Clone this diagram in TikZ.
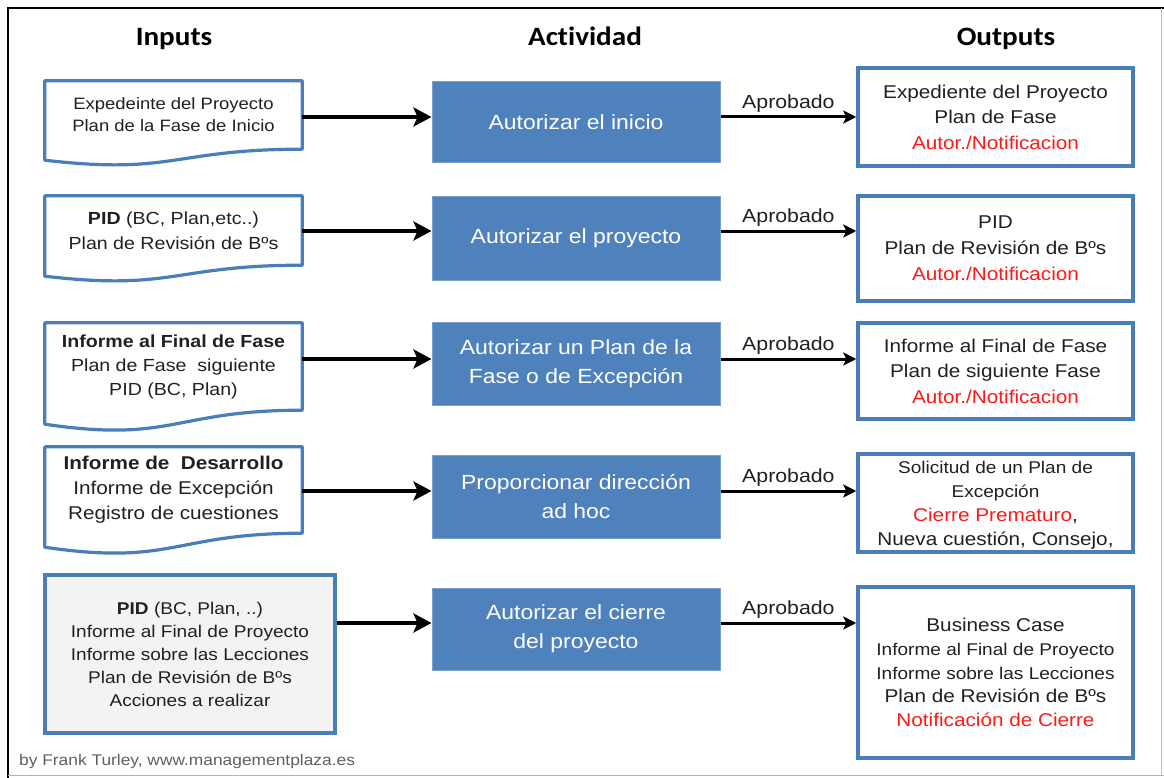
\documentclass[tikz,border=0pt]{standalone}
\usepackage{fontspec}
\setmainfont[FakeStretch=1.12]{Liberation Sans}
\newfontfamily\headfont[FakeStretch=1.1,Ligatures=NoCommon]{Carlito}
\usetikzlibrary{arrows.meta,calc}

\definecolor{boxblue}{RGB}{79,129,189}
\definecolor{lineblue}{RGB}{74,126,187}
\definecolor{bodytext}{RGB}{32,32,32}
\definecolor{alertred}{RGB}{255,24,24}
\definecolor{docgray}{RGB}{243,243,243}
\definecolor{footgray}{RGB}{96,96,96}

\newcommand\fs[2]{\fontsize{#1}{#2}\selectfont}
% wavy-bottomed document outline around the rectangular part of a node
% #1 node name, #2 drop of the left corner, #3 drop of the curve control
\newcommand\docoutline[3]{%
  \draw[docline] ($(#1.south west)+(0,#2)$) -- (#1.north west) -- (#1.north east)
    -- (#1.south east) .. controls (#1.south) and ($(#1.south)+(0,#3)$) .. ($(#1.south west)+(0,#2)$) -- cycle;}

\begin{document}
\begin{tikzpicture}[x=1pt,y=-1pt,
  inpart/.style={draw=none, minimum width=257pt, inner sep=0pt, align=center, text=bodytext},
  docline/.style={draw=lineblue, line width=3.2pt, line join=round},
  actbox/.style={fill=boxblue, draw=boxblue!75!white, line width=1pt, minimum width=288pt,
    minimum height=82pt, inner sep=0pt, text=white, align=center, font=\fs{20.5}{29}},
  outbox/.style={draw=lineblue, line width=3.5pt, minimum width=275pt, inner sep=0pt,
    align=center, text=bodytext},
  heading/.style={font=\headfont\bfseries\fs{26.5}{30}, text=black, anchor=base, inner sep=0pt},
  feed/.style={line width=4.8pt, -{Stealth[length=18pt, width=19pt, inset=4pt]}},
  result/.style={line width=3pt, -{Stealth[length=13pt, width=13pt, inset=3pt]}},
  oklabel/.style={font=\fs{19}{22}, text=bodytext, inner sep=2pt},
]
\useasboundingbox (0,0) rectangle (1164,778);

% page frame
\draw[line width=2.6pt, black] (8,778) -- (8,8) -- (1164,8);
\draw[line width=1pt, black!30] (8,775.5) -- (1164,775.5);
\draw[line width=0.8pt, black!25] (1161,8) -- (1161,775);

% column headings
\node[heading] (hin)  at (174,46) {Inputs};
\node[heading] (hact) at (585,46) {Actividad};
\node[heading] (hout) at (1006,46) {Outputs};

% heights of the connecting arrows in each row
\coordinate (r1) at (0,117);
\coordinate (r2) at (0,231);
\coordinate (r3) at (0,359);
\coordinate (r4) at (0,491);
\coordinate (r5) at (0,623);

% inputs
\node[inpart, minimum height=68pt, font=\fs{16.5}{22}] (in1) at (173.5,115)
  {Expedeinte del Proyecto\\Plan de la Fase de Inicio};
\docoutline{in1}{11}{26}
\node[inpart, minimum height=69pt, font=\fs{17.5}{25}] (in2) at (173.5,230.5)
  {\textbf{PID} (BC, Plan,etc..)\\Plan de Revisión de Bºs};
\docoutline{in2}{11}{26}
\node[inpart, minimum height=87pt, font=\fs{17.5}{24}] (in3) at (173.5,366.5)
  {\textbf{Informe al Final de Fase}\\Plan de Fase\ \ siguiente\\PID (BC, Plan)};
\docoutline{in3}{14}{33}
\node[inpart, minimum height=86pt, font=\fs{18.5}{25}] (in4) at (173.5,490)
  {\textbf{Informe de\ \ Desarrollo}\\Informe de Excepción\\Registro de cuestiones};
\docoutline{in4}{14}{33}
\node[draw=lineblue, line width=3.5pt, fill=docgray, minimum width=290pt, minimum height=158pt,
  inner sep=0pt, align=center, text=bodytext, font=\fs{17}{23}] (in5) at (190,654)
  {\textbf{PID} (BC, Plan, ..)\\Informe al Final de Proyecto\\Informe sobre las Lecciones\\
   Plan de Revisión de Bºs\\Acciones a realizar};

% activities
\node[actbox, minimum height=81pt] (act1) at (576,122.5) {Autorizar el inicio};
\node[actbox, minimum height=83pt] (act2) at (576,238.5) {Autorizar el proyecto};
\node[actbox, minimum height=83pt] (act3) at (576,363.5) {Autorizar un Plan de la\\Fase o de Excepción};
\node[actbox, minimum height=83pt] (act4) at (576,496.5) {Proporcionar dirección\\ad hoc};
\node[actbox, minimum height=82pt] (act5) at (576,629) {Autorizar el cierre\\del proyecto};

% outputs
\node[outbox, minimum height=98pt, font=\fs{18.5}{25.5}] (out1) at (995.5,117)
  {Expediente del Proyecto\\Plan de Fase\\{\color{alertred}Autor./Notificacion}};
\node[outbox, minimum height=105pt, font=\fs{18.5}{26}] (out2) at (995.5,248.5)
  {PID\\Plan de Revisión\ de Bºs\\{\color{alertred}Autor./Notificacion}};
\node[outbox, minimum height=96pt, font=\fs{18.5}{25.5}] (out3) at (995.5,371)
  {Informe al Final de Fase\\Plan de siguiente Fase\\{\color{alertred}Autor./Notificacion}};
\node[outbox, minimum height=98pt] (out4) at (995.5,503) {};
\begin{scope}
  \clip ($(out4.south west)+(1.75,-1.75)$) rectangle ($(out4.north east)+(-1.75,1.75)$);
  \node[align=center, text=bodytext, inner sep=0pt, font=\fs{17}{24}] (out4text) at (995.5,505)
    {Solicitud de un Plan de\\Excepción\\{\fs{18.5}{24}{\color{alertred}Cierre\ Prematuro},}\\
     {\fs{18.5}{24}Nueva cuestión, Consejo,}};
\end{scope}
\node[outbox, minimum height=171pt, font=\fs{17}{23.7}] (out5) at (995.5,672.5)
  {{\fs{18.5}{23.7}Business Case}\\Informe al Final de Proyecto\\Informe sobre las Lecciones\\
   {\fs{18.5}{23.7}Plan de Revisión\ de Bºs}\\{\fs{18.5}{23.7}\color{alertred}Notificación de Cierre}};

% arrows: inputs into activities
\foreach \i in {1,...,5}
  \draw[feed] (in\i.east |- r\i) -- (act\i.west |- r\i);
% arrows: activities into outputs
\foreach \i in {1,...,5}
  \draw[result] (act\i.east |- r\i) -- node[oklabel, above=1pt] {Aprobado} (out\i.west |- r\i);

% credit line
\node[anchor=west, font=\fs{15.5}{18}, text=footgray, inner sep=0pt] (credit) at (19,761)
  {by Frank Turley, www.managementplaza.es};
\end{tikzpicture}
\end{document}
